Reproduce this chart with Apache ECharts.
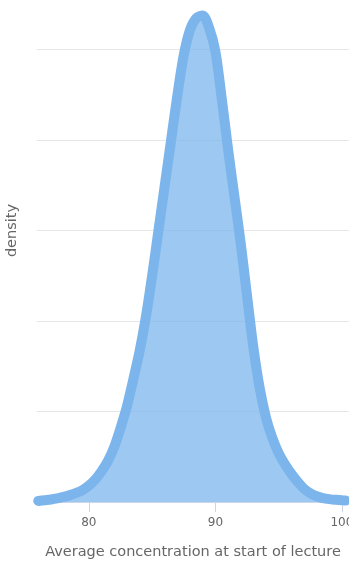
<!DOCTYPE html>
<html>
<head>
<meta charset="utf-8">
<script src="https://cdn.jsdelivr.net/npm/echarts@6/dist/echarts.min.js"></script>
<style>
  html, body { margin: 0; padding: 0; background: #ffffff; }
  #chart { width: 349px; height: 561px; }
</style>
</head>
<body>
<div id="chart"></div>
<script>
// Estimated density of the average concentration at the start of a lecture
const concentration = [
  76.0, 76.5, 77.0, 77.5, 78.0, 78.5, 79.0, 79.5, 80.0, 80.5,
  81.0, 81.5, 82.0, 82.5, 83.0, 83.5, 84.0, 84.5, 85.0, 85.5,
  86.0, 86.5, 87.0, 87.5, 88.0, 88.5, 89.0, 89.5, 90.0, 90.5,
  91.0, 91.5, 92.0, 92.5, 93.0, 93.5, 94.0, 94.5, 95.0, 95.5,
  96.0, 96.5, 97.0, 97.5, 98.0, 98.5, 99.0, 99.5, 100.0, 100.3
];
const density = [
  0.0003, 0.0005, 0.0007, 0.0010, 0.0014, 0.0019, 0.0025, 0.0033, 0.0045, 0.0062,
  0.0085, 0.0113, 0.0152, 0.0204, 0.0263, 0.0337, 0.0415, 0.0510, 0.0625, 0.0750,
  0.0875, 0.1000, 0.1125, 0.1235, 0.1305, 0.1337, 0.1344, 0.1310, 0.1245, 0.1115,
  0.0975, 0.0845, 0.0715, 0.0570, 0.0428, 0.0315, 0.0233, 0.0177, 0.0135, 0.0104,
  0.0078, 0.0056, 0.0037, 0.0024, 0.0016, 0.0011, 0.0008, 0.0006, 0.0005, 0.0004
];
const xTicks = [80, 90, 100];

const chart = echarts.init(document.getElementById('chart'), null, { renderer: 'canvas' });
const textFont = "'DejaVu Sans', Verdana, sans-serif";

chart.setOption({
  animation: false,
  grid: { left: 37, right: 0, top: -41, bottom: 59, containLabel: false, outerBoundsMode: 'none' },
  xAxis: {
    type: 'value',
    min: 75.9,
    max: 100.56,
    name: 'Average concentration at start of lecture',
    nameLocation: 'middle',
    nameGap: 43,
    nameTextStyle: { color: '#666666', fontSize: 14.5, fontFamily: textFont },
    axisLine: { show: true, lineStyle: { color: '#ccd6eb', width: 1 } },
    axisTick: { show: true, length: 10, customValues: xTicks, lineStyle: { color: '#ccd6eb' } },
    axisLabel: { customValues: xTicks, margin: 15, color: '#666666', fontSize: 12, fontFamily: textFont },
    splitLine: { show: false }
  },
  yAxis: {
    type: 'value',
    min: 0,
    max: 0.15,
    interval: 0.025,
    name: 'density',
    nameLocation: 'middle',
    nameGap: 17,
    nameRotate: 90,
    nameTextStyle: { color: '#666666', fontSize: 14.5, fontFamily: textFont },
    axisLine: { show: false },
    axisTick: { show: false },
    axisLabel: { show: false },
    splitLine: { show: true, lineStyle: { color: '#e6e6e6', width: 1 } }
  },
  series: [{
    type: 'line',
    data: concentration.map((x, i) => [x, density[i]]),
    smooth: 0.3,
    showSymbol: false,
    symbol: 'none',
    lineStyle: { color: '#7cb5ec', width: 10, cap: 'round', join: 'round' },
    areaStyle: { color: '#7cb5ec', opacity: 0.75 },
    z: 3
  }]
});
</script>
</body>
</html>
